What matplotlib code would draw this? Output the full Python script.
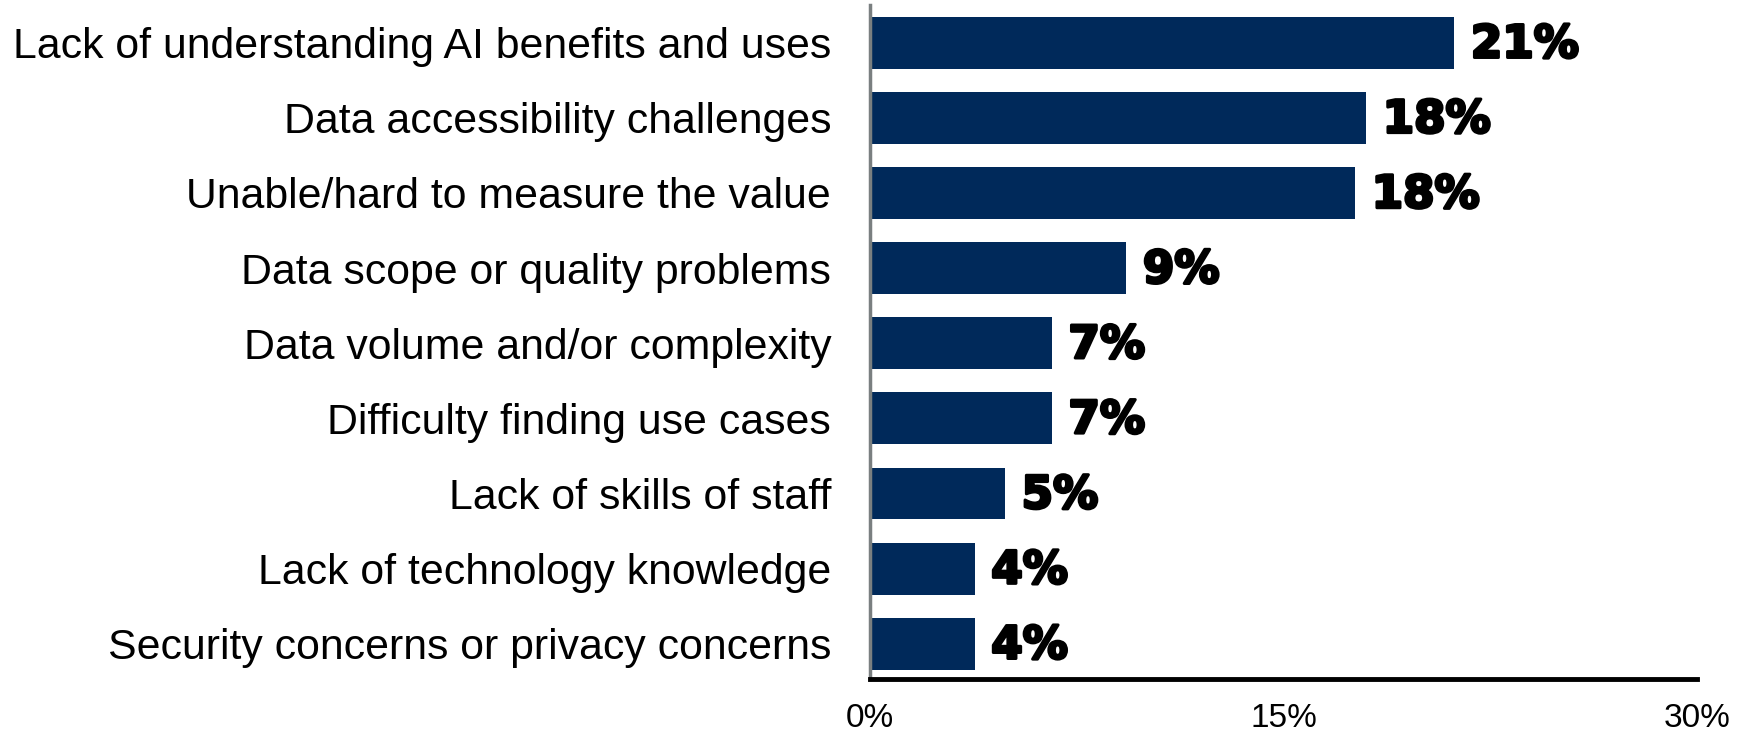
import matplotlib.pyplot as plt
import matplotlib.patheffects as pe
from matplotlib import font_manager

categories = [
    "Lack of understanding AI benefits and uses",
    "Data accessibility challenges",
    "Unable/hard to measure the value",
    "Data scope or quality problems",
    "Data volume and/or complexity",
    "Difficulty finding use cases",
    "Lack of skills of staff",
    "Lack of technology knowledge",
    "Security concerns or privacy concerns",
]
values = [21.2, 18.0, 17.6, 9.3, 6.6, 6.6, 4.9, 3.8, 3.8]
value_labels = ["21%", "18%", "18%", "9%", "7%", "7%", "5%", "4%", "4%"]
tick_values = [0, 15, 30]
tick_labels = ["0%", "15%", "30%"]

# police "narrow" pour les graduations si elle existe
noms = {f.name for f in font_manager.fontManager.ttflist}
narrow = "Liberation Sans Narrow" if "Liberation Sans Narrow" in noms else "Liberation Sans"

fig = plt.figure(figsize=(17.39, 7.34), dpi=100)
ax = fig.add_axes([0.5003, 0.0749, 0.4755, 0.9181])

pos = list(range(len(categories)))
ax.barh(pos, values, height=0.69, color="#00295A")
ax.set_ylim(8.47, -0.5)
ax.set_xlim(0, 30)

ax.set_yticks(pos)
ax.set_yticklabels(categories, fontsize=30.8, family="Liberation Sans")
ax.set_xticks(tick_values)
ax.set_xticklabels(tick_labels, fontsize=24, family=narrow)
ax.tick_params(axis="y", length=0, pad=28)
ax.tick_params(axis="x", length=0, pad=17)

for s in ["top", "right"]:
    ax.spines[s].set_visible(False)
ax.spines["left"].set_color("#7a7f80")
ax.spines["left"].set_linewidth(2.5)
ax.spines["bottom"].set_color("black")
ax.spines["bottom"].set_linewidth(3.5)

# etichette dei valori, stile "Arial Black"
for i, (v, lab) in enumerate(zip(values, value_labels)):
    ax.text(v + 0.6, i + 0.03, lab, va="center", ha="left", fontsize=32.5,
            fontweight="bold", family="DejaVu Sans", color="black",
            path_effects=[pe.withStroke(linewidth=2.2, foreground="black")])

fig.savefig("out.png", dpi=100)
